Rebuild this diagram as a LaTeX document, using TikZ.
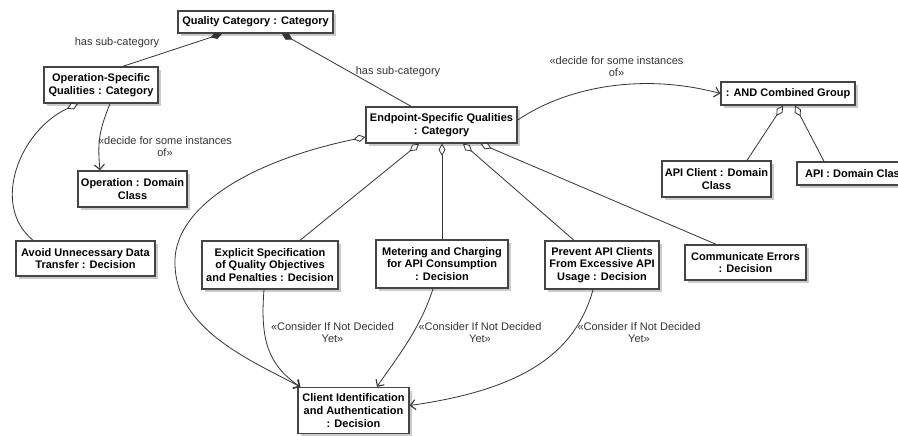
\documentclass[tikz,border=0pt]{standalone}
\usepackage{fontspec}
\setmainfont{Liberation Sans}
\usetikzlibrary{arrows.meta,shadows}
\definecolor{edgec}{HTML}{333333}
\definecolor{boxc}{HTML}{444444}
\tikzset{
  box/.style={draw=boxc, line width=1.4pt, fill=white, inner sep=0pt, align=center,
    font=\fontsize{11}{12.6}\selectfont\bfseries,
    drop shadow={shadow xshift=3pt, shadow yshift=-3pt, fill=black!45, opacity=0.45}},
  lbl/.style={font=\fontsize{11}{12}\selectfont, text=edgec, align=center, inner sep=0pt},
  edge/.style={draw=edgec, line width=0.8pt},
  agg/.style={edge, {Diamond[open, length=12pt, width=7pt, line width=0.8pt, fill=white]}-},
  comp/.style={edge, {Diamond[length=12pt, width=7pt]}-},
  arr/.style={edge, -{Straight Barb[length=5pt, width=10pt, line width=1.1pt]}},
  aggarr/.style={edge, {Diamond[open, length=12pt, width=7pt, line width=0.8pt, fill=white]}-{Straight Barb[length=5pt, width=10pt, line width=1.1pt]}}
}
\begin{document}
\begin{tikzpicture}[x=1pt,y=-1pt]
\path[use as bounding box] (0,0) rectangle (898,436);
\clip (0,0) rectangle (898,436);
% nodes
\node[box, minimum width=155pt, minimum height=22pt] (qc) at (255.5,22) {Quality Category : Category};
\node[box, minimum width=114pt, minimum height=36pt] (ops) at (101,85) {Operation-Specific\\Qualities : Category};
\node[box, minimum width=109pt, minimum height=36pt] (op) at (132.5,189) {Operation : Domain\\Class};
\node[box, minimum width=151pt, minimum height=36pt] (eps) at (441.5,125) {Endpoint-Specific Qualities\\: Category};
\node[box, minimum width=134pt, minimum height=23pt] (andg) at (788,93.5) {: AND Combined Group};
\node[box, minimum width=109pt, minimum height=36pt] (apic) at (716.5,179) {API Client : Domain\\Class};
\node[box, minimum width=117pt, minimum height=23pt] (api) at (855.5,173.5) {API : Domain Class};
\node[box, minimum width=139pt, minimum height=35pt] (avoid) at (85.5,258.5) {Avoid Unnecessary Data\\Transfer : Decision};
\node[box, minimum width=136pt, minimum height=48pt] (expl) at (270,265) {Explicit Specification\\of Quality Objectives\\and Penalties : Decision};
\node[box, minimum width=132pt, minimum height=48pt] (meter) at (442,264) {Metering and Charging\\for API Consumption\\: Decision};
\node[box, minimum width=114pt, minimum height=48pt] (prev) at (602,265) {Prevent API Clients\\From Excessive API\\Usage : Decision};
\node[box, minimum width=121pt, minimum height=35pt] (comm) at (745.5,262.5) {Communicate Errors\\: Decision};
\node[box, minimum width=111pt, minimum height=46pt] (cid) at (353.5,410.5) {Client Identification\\and Authentication\\: Decision};
% composition
\draw[comp] ([xshift=-33.5pt]qc.south) -- ([xshift=22pt]ops.north);
\draw[comp] ([xshift=26.5pt]qc.south) -- ([xshift=-30.5pt]eps.north);
\node[lbl] (l1) at (117,43) {has sub-category};
\node[lbl] (l2) at (398,72) {has sub-category};
% decide for some instances
\draw[arr] ([xshift=9pt]ops.south) .. controls +(-10,25) and +(-3,-30) .. ([xshift=-32.5pt]op.north);
\node[lbl] (l3) at (165,147) {«decide for some instances\\of»};
\draw[arr] ([yshift=5pt]eps.east) .. controls (565,88) and (640,72) .. (andg.west);
\node[lbl] (l4) at (616.5,67) {«decide for some instances\\of»};
% aggregations
\draw[agg] ([xshift=-23pt]ops.south) .. controls (20,130) and (-10,205) .. ([xshift=-52.5pt]avoid.north);
\draw[agg] ([xshift=-5pt]andg.south) -- ([xshift=30.5pt]apic.north);
\draw[agg] ([xshift=7pt]andg.south) -- ([xshift=-31.5pt]api.north);
\draw[agg] ([xshift=-22.5pt]eps.south) -- ([xshift=30pt]expl.north);
\draw[agg] ([xshift=0.5pt]eps.south) -- (meter.north);
\draw[agg] ([xshift=21.5pt]eps.south) -- ([xshift=-28pt]prev.north);
\draw[agg] ([xshift=39pt]eps.south) -- ([xshift=-29.5pt]comm.north);
\draw[aggarr] ([yshift=-12pt]eps.west) .. controls (245,162) and (172,210) .. (175,265)
   .. controls (177,330) and (250,360) .. ([xshift=3pt]cid.north west);
% consider if not decided yet
\draw[arr] ([xshift=-6pt]expl.south) .. controls (260,340) and (268,365) .. ([xshift=3pt]cid.north west);
\node[lbl] (l5) at (332.5,333) {«Consider If Not Decided\\Yet»};
\draw[arr] ([xshift=-9pt]meter.south) .. controls (420,330) and (395,360) .. ([xshift=23.5pt]cid.north);
\node[lbl] (l6) at (480,333) {«Consider If Not Decided\\Yet»};
\draw[arr] ([xshift=-9pt]prev.south) .. controls (575,355) and (520,390) .. ([yshift=5pt]cid.east);
\node[lbl] (l7) at (639,333) {«Consider If Not Decided\\Yet»};
\end{tikzpicture}
\end{document}
